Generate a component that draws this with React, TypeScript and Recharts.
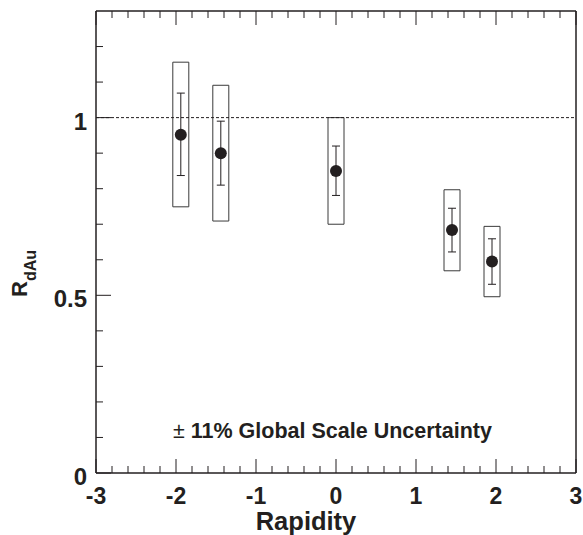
import {
  ComposedChart,
  Scatter,
  ErrorBar,
  XAxis,
  YAxis,
  ReferenceArea,
  ReferenceLine,
  Customized,
} from "recharts";

// J/psi nuclear modification factor vs rapidity
const RAPIDITY = [-1.94, -1.44, 0.0, 1.45, 1.95];
const RDAU = [0.952, 0.9, 0.85, 0.684, 0.595];
const STAT_LO = [0.837, 0.81, 0.781, 0.622, 0.531];
const STAT_HI = [1.069, 0.99, 0.92, 0.745, 0.659];
const SYS_LO = [0.749, 0.709, 0.7, 0.569, 0.496];
const SYS_HI = [1.156, 1.091, 1.0, 0.797, 0.694];
const BOX_HALF = 0.1;

const X_TICKS = [
  -3, -2.8, -2.6, -2.4, -2.2, -2, -1.8, -1.6, -1.4, -1.2, -1, -0.8, -0.6, -0.4,
  -0.2, 0, 0.2, 0.4, 0.6, 0.8, 1, 1.2, 1.4, 1.6, 1.8, 2, 2.2, 2.4, 2.6, 2.8, 3,
];
const Y_TICKS = [0, 0.1, 0.2, 0.3, 0.4, 0.5, 0.6, 0.7, 0.8, 0.9, 1, 1.1, 1.2];
const Y_LABELS = [0, 0.5, 1];

const points = RAPIDITY.map((x, i) => ({
  x,
  y: RDAU[i],
  err: [RDAU[i] - STAT_LO[i], STAT_HI[i] - RDAU[i]],
}));

const INK = "#231f20";
const FONT = "'Liberation Sans', Arial, Helvetica, sans-serif";

const isMajorX = (v: number) => Math.abs(v - Math.round(v)) < 1e-6;
const isMajorY = (v: number) => Math.abs(v * 2 - Math.round(v * 2)) < 1e-6;

// inward ticks; with tickSize/tickMargin = 0 the x/y props sit on the axis line
function XTick(props: any) {
  const { x, y, payload, side } = props;
  const v = payload.value as number;
  const len = isMajorX(v) ? 14 : 7;
  const dir = side === "top" ? 1 : -1;
  return (
    <g>
      <line x1={x} x2={x} y1={y} y2={y + dir * len} stroke={INK} strokeWidth={1} />
      {side === "bottom" && isMajorX(v) && (
        <text
          x={x}
          y={y + 31}
          textAnchor="middle"
          fontFamily={FONT}
          fontWeight="bold"
          fontSize={23}
          fill={INK}
        >
          {Math.round(v)}
        </text>
      )}
    </g>
  );
}

function YTick(props: any) {
  const { x, y, payload, side } = props;
  const v = payload.value as number;
  const len = isMajorY(v) ? 15 : 7;
  const dir = side === "left" ? 1 : -1;
  const labeled = side === "left" && Y_LABELS.some((l) => Math.abs(l - v) < 1e-6);
  return (
    <g>
      <line x1={x} x2={x + dir * len} y1={y} y2={y} stroke={INK} strokeWidth={1} />
      {labeled && (
        <text
          x={x - 9}
          y={y + 12}
          textAnchor="end"
          fontFamily={FONT}
          fontWeight="bold"
          fontSize={24}
          fill={INK}
        >
          {v}
        </text>
      )}
    </g>
  );
}

function Titles() {
  return (
    <g fontFamily={FONT} fontWeight="bold" fill={INK}>
      <text x={306} y={530} textAnchor="middle" fontSize={25.5}>
        Rapidity
      </text>
      <text x={27} y={297} transform="rotate(-90 27 297)" fontSize={22}>
        R
        <tspan fontSize={16} dy={9}>
          dAu
        </tspan>
      </text>
      <text x={173} y={438} fontSize={21.5}>
        <tspan fontWeight="normal">±</tspan> 11% Global Scale Uncertainty
      </text>
    </g>
  );
}

export default function App() {
  return (
    <div style={{ position: "absolute", left: 0, top: 0, background: "#fff" }}>
      <ComposedChart
        width={583}
        height={535}
        data={points}
        margin={{ top: 0, right: 0, bottom: 0, left: 0 }}
      >
        <XAxis
          xAxisId="b"
          dataKey="x"
          type="number"
          orientation="bottom"
          domain={[-3, 3]}
          ticks={X_TICKS}
          interval={0}
          height={62}
          tickSize={0}
          tickMargin={0}
          tickLine={false}
          axisLine={{ stroke: INK, strokeWidth: 1.5 }}
          tick={<XTick side="bottom" />}
        />
        <XAxis
          xAxisId="t"
          dataKey="x"
          type="number"
          orientation="top"
          domain={[-3, 3]}
          ticks={X_TICKS}
          interval={0}
          height={11}
          tickSize={0}
          tickMargin={0}
          tickLine={false}
          axisLine={{ stroke: INK, strokeWidth: 1.5 }}
          tick={<XTick side="top" />}
        />
        <YAxis
          yAxisId="l"
          type="number"
          orientation="left"
          domain={[0, 1.3]}
          ticks={Y_TICKS}
          interval={0}
          width={96}
          tickSize={0}
          tickMargin={0}
          tickLine={false}
          axisLine={{ stroke: INK, strokeWidth: 1.5 }}
          tick={<YTick side="left" />}
        />
        <YAxis
          yAxisId="r"
          type="number"
          orientation="right"
          domain={[0, 1.3]}
          ticks={Y_TICKS}
          interval={0}
          width={7}
          tickSize={0}
          tickMargin={0}
          tickLine={false}
          axisLine={{ stroke: INK, strokeWidth: 1.5 }}
          tick={<YTick side="right" />}
        />
        <ReferenceLine
          xAxisId="b"
          yAxisId="l"
          y={1}
          stroke={INK}
          strokeWidth={1}
          strokeDasharray="3 2"
        />
        {RAPIDITY.map((x, i) => (
          <ReferenceArea
            key={i}
            xAxisId="b"
            yAxisId="l"
            x1={x - BOX_HALF}
            x2={x + BOX_HALF}
            y1={SYS_LO[i]}
            y2={SYS_HI[i]}
            fill="none"
            fillOpacity={0}
            stroke="#3a3a3a"
            strokeWidth={1}
          />
        ))}
        <Scatter
          xAxisId="b"
          yAxisId="l"
          dataKey="y"
          fill={INK}
          isAnimationActive={false}
          shape={(p: any) => <circle cx={p.cx} cy={p.cy} r={6} fill={INK} />}
        >
          <ErrorBar
            dataKey="err"
            direction="y"
            width={4}
            stroke={INK}
            strokeWidth={1}
            isAnimationActive={false}
          />
        </Scatter>
        <Customized component={Titles} />
      </ComposedChart>
    </div>
  );
}
